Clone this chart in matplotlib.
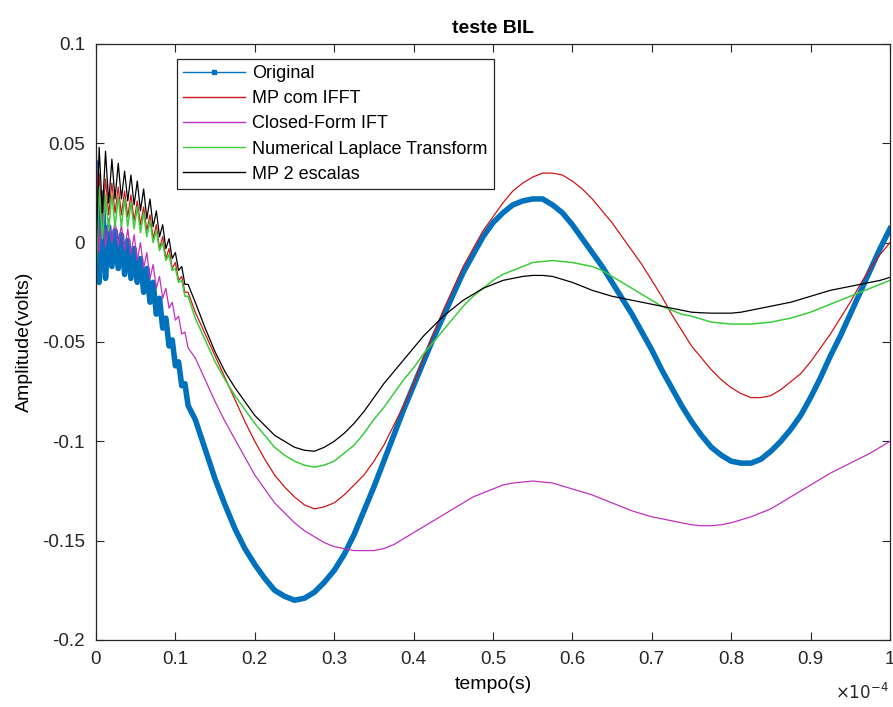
import numpy as np
import matplotlib
matplotlib.use("Agg")
import matplotlib.pyplot as plt
from matplotlib.lines import Line2D

plt.rcParams['font.family'] = ['Liberation Sans', 'DejaVu Sans']

# time axis in units of 1e-4 s: dense samples over the initial ripple, finer grid afterwards
t_early = np.arange(0.0, 0.1199, 0.004)
t_late = np.arange(0.125, 1.0001, 0.0125)
tempo = np.concatenate([t_early, t_late])

original_early = [0.040, -0.020, 0.025, -0.018, 0.008, -0.012, 0.006, -0.013, 0.004, -0.016,
                  0.001, -0.018, -0.003, -0.020, -0.008, -0.025, -0.013, -0.030, -0.020, -0.036,
                  -0.028, -0.043, -0.038, -0.052, -0.049, -0.062, -0.060, -0.072, -0.071, -0.082]
original_late = [-0.089, -0.104, -0.119, -0.132, -0.144, -0.154, -0.162, -0.169, -0.175, -0.178,
                 -0.180, -0.179, -0.176, -0.171, -0.165, -0.157, -0.147, -0.135, -0.123, -0.110,
                 -0.097, -0.084, -0.072, -0.060, -0.048, -0.037, -0.026, -0.015, -0.006, 0.003,
                 0.010, 0.015, 0.019, 0.021, 0.022, 0.022, 0.019, 0.015, 0.009, 0.002,
                 -0.005, -0.012, -0.020, -0.028, -0.036, -0.045, -0.054, -0.064, -0.073, -0.082,
                 -0.090, -0.097, -0.103, -0.107, -0.110, -0.111, -0.111, -0.109, -0.105, -0.100,
                 -0.094, -0.087, -0.078, -0.068, -0.057, -0.047, -0.036, -0.025, -0.014, -0.003,
                 0.007]

mp_ifft_early = [0.000, 0.035, 0.010, 0.032, 0.014, 0.030, 0.015, 0.028, 0.014, 0.026,
                 0.013, 0.024, 0.011, 0.021, 0.009, 0.018, 0.006, 0.014, 0.002, 0.009,
                 -0.003, 0.003, -0.008, -0.003, -0.013, -0.010, -0.019, -0.017, -0.025, -0.025]
mp_ifft_late = [-0.035, -0.046, -0.057, -0.068, -0.079, -0.090, -0.100, -0.109, -0.117, -0.123,
                -0.128, -0.132, -0.134, -0.133, -0.131, -0.127, -0.122, -0.117, -0.110, -0.102,
                -0.092, -0.082, -0.071, -0.058, -0.046, -0.034, -0.023, -0.012, -0.003, 0.006,
                0.013, 0.020, 0.026, 0.030, 0.033, 0.035, 0.035, 0.034, 0.031, 0.027,
                0.022, 0.016, 0.010, 0.003, -0.004, -0.011, -0.019, -0.027, -0.036, -0.044,
                -0.052, -0.058, -0.064, -0.069, -0.073, -0.076, -0.078, -0.078, -0.077, -0.074,
                -0.070, -0.066, -0.060, -0.053, -0.046, -0.038, -0.030, -0.021, -0.013, -0.006,
                0.000]

closed_form_early = [0.052, -0.005, 0.015, -0.002, 0.012, 0.000, 0.011, -0.002, 0.009, -0.004,
                     0.007, -0.006, 0.004, -0.009, 0.000, -0.013, -0.005, -0.018, -0.011, -0.023,
                     -0.017, -0.028, -0.023, -0.033, -0.030, -0.039, -0.037, -0.046, -0.045, -0.053]
closed_form_late = [-0.058, -0.069, -0.080, -0.090, -0.099, -0.108, -0.117, -0.124, -0.131, -0.136,
                    -0.141, -0.145, -0.148, -0.151, -0.153, -0.154, -0.155, -0.155, -0.155, -0.154,
                    -0.152, -0.149, -0.146, -0.143, -0.140, -0.137, -0.134, -0.131, -0.128, -0.126,
                    -0.124, -0.122, -0.121, -0.1205, -0.120, -0.1205, -0.121, -0.1225, -0.124, -0.1255,
                    -0.127, -0.129, -0.131, -0.133, -0.135, -0.1365, -0.138, -0.139, -0.140, -0.141,
                    -0.142, -0.1425, -0.1425, -0.142, -0.141, -0.1395, -0.138, -0.136, -0.134, -0.131,
                    -0.128, -0.125, -0.122, -0.119, -0.116, -0.1135, -0.111, -0.1085, -0.106, -0.103,
                    -0.100]

laplace_early = [-0.015, 0.028, 0.002, 0.024, 0.006, 0.024, 0.008, 0.023, 0.008, 0.022,
                 0.008, 0.020, 0.007, 0.018, 0.005, 0.015, 0.003, 0.011, 0.000, 0.006,
                 -0.004, 0.000, -0.009, -0.006, -0.014, -0.013, -0.020, -0.019, -0.027, -0.027]
laplace_late = [-0.038, -0.049, -0.060, -0.069, -0.077, -0.084, -0.091, -0.097, -0.103, -0.107,
                -0.110, -0.112, -0.113, -0.112, -0.110, -0.106, -0.102, -0.096, -0.089, -0.083,
                -0.076, -0.069, -0.063, -0.056, -0.050, -0.044, -0.038, -0.032, -0.027, -0.023,
                -0.019, -0.016, -0.014, -0.012, -0.010, -0.0095, -0.009, -0.0095, -0.010, -0.011,
                -0.012, -0.014, -0.017, -0.020, -0.023, -0.026, -0.029, -0.032, -0.034, -0.036,
                -0.037, -0.0385, -0.040, -0.0405, -0.041, -0.041, -0.041, -0.0405, -0.040, -0.039,
                -0.038, -0.0365, -0.035, -0.033, -0.031, -0.029, -0.027, -0.025, -0.023, -0.021,
                -0.019]

mp2_early = [-0.008, 0.048, 0.015, 0.046, 0.020, 0.042, 0.022, 0.040, 0.022, 0.036,
             0.021, 0.034, 0.019, 0.031, 0.016, 0.027, 0.012, 0.022, 0.008, 0.016,
             0.003, 0.009, -0.003, 0.002, -0.008, -0.005, -0.014, -0.012, -0.021, -0.021]
mp2_late = [-0.030, -0.043, -0.055, -0.065, -0.073, -0.080, -0.087, -0.092, -0.097, -0.100,
            -0.103, -0.1045, -0.105, -0.103, -0.100, -0.096, -0.091, -0.085, -0.078, -0.071,
            -0.065, -0.059, -0.053, -0.047, -0.042, -0.037, -0.033, -0.029, -0.026, -0.023,
            -0.021, -0.019, -0.018, -0.017, -0.0165, -0.0165, -0.017, -0.0185, -0.020, -0.022,
            -0.024, -0.0255, -0.027, -0.028, -0.029, -0.030, -0.031, -0.032, -0.033, -0.034,
            -0.035, -0.0353, -0.0355, -0.0355, -0.0355, -0.035, -0.034, -0.033, -0.032, -0.031,
            -0.030, -0.0285, -0.027, -0.0255, -0.024, -0.023, -0.022, -0.021, -0.020, -0.019,
            -0.0175]

labels = ["Original", "MP com IFFT", "Closed-Form IFT", "Numerical Laplace Transform", "MP 2 escalas"]
colors = ["#0072BD", "#d01515", "#c030c0", "#3ccc3c", "#000000"]
x_ticks = [0, 0.1, 0.2, 0.3, 0.4, 0.5, 0.6, 0.7, 0.8, 0.9, 1]
x_tick_labels = ["0", "0.1", "0.2", "0.3", "0.4", "0.5", "0.6", "0.7", "0.8", "0.9", "1"]
y_ticks = [-0.2, -0.15, -0.1, -0.05, 0, 0.05, 0.1]
y_tick_labels = ["-0.2", "-0.15", "-0.1", "-0.05", "0", "0.05", "0.1"]

series = [original_early + original_late,
          mp_ifft_early + mp_ifft_late,
          closed_form_early + closed_form_late,
          laplace_early + laplace_late,
          mp2_early + mp2_late]
widths = [4.0, 0.9, 0.9, 1.1, 0.9]

fig = plt.figure(figsize=(8.93, 7.07), dpi=100)
ax = fig.add_axes([0.1075, 0.0948, 0.8891, 0.843])

for vals, c, w in zip(series, colors, widths):
    ax.plot(tempo, vals, color=c, lw=w, solid_joinstyle='round')

ax.set_xlim(0, 1)
ax.set_ylim(-0.2, 0.1)
ax.set_xticks(x_ticks)
ax.set_xticklabels(x_tick_labels)
ax.set_yticks(y_ticks)
ax.set_yticklabels(y_tick_labels)
ax.tick_params(direction='in', length=6, width=0.8, top=True, right=True,
               labelsize=13.5, colors='#262626', pad=8)
for s in ax.spines.values():
    s.set_color('#262626')
    s.set_linewidth(0.9)

ax.set_title("teste BIL", fontsize=14, fontweight='bold', pad=8)
ax.set_xlabel("tempo(s)", fontsize=14, labelpad=6)
ax.set_ylabel("Amplitude(volts)", fontsize=14, labelpad=6)
ax.text(0.998, -0.07, r"$\times10^{-4}$", transform=ax.transAxes, ha='right', va='top',
        fontsize=12, color='#262626')

handles = [Line2D([0], [0], color=colors[0], lw=1.0, marker='s', ms=3)]
handles += [Line2D([0], [0], color=c, lw=1.0) for c in colors[1:]]
leg = ax.legend(handles, labels, loc='upper left', bbox_to_anchor=(0.102, 0.975),
                borderaxespad=0, fontsize=13, handlelength=3.4, labelspacing=0.45,
                handletextpad=0.4, borderpad=0.35, fancybox=False, framealpha=1,
                edgecolor='#262626', numpoints=1)
leg.get_frame().set_linewidth(0.9)

fig.savefig("out.png", dpi=100)
